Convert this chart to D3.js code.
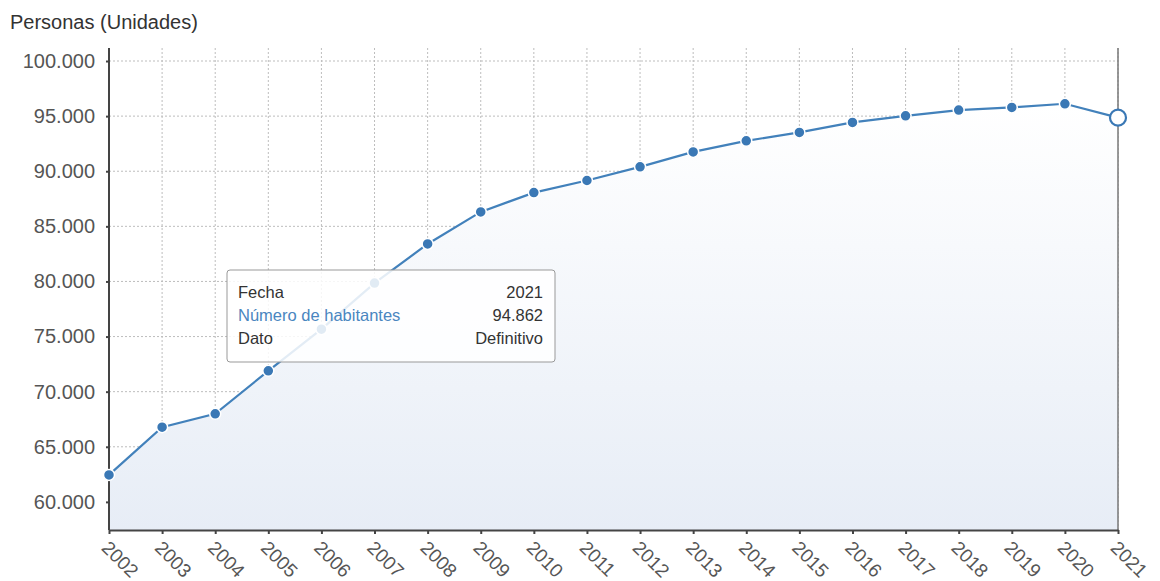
<!DOCTYPE html>
<html>
<head>
<meta charset="utf-8">
<script src="https://cdn.jsdelivr.net/npm/d3@7"></script>
<style>
  body { margin: 0; background: #fff; font-family: "Liberation Sans", Arial, sans-serif; }
  #chart svg { display: block; }
</style>
</head>
<body>
<div id="chart"></div>
<script>
const years = ['2002', '2003', '2004', '2005', '2006', '2007', '2008', '2009', '2010', '2011',
               '2012', '2013', '2014', '2015', '2016', '2017', '2018', '2019', '2020', '2021'];
const habitantes = [62450, 66780, 67990, 71890, 75670, 79850, 83400, 86310, 88060, 89160,
                    90400, 91750, 92760, 93520, 94430, 95030, 95545, 95790, 96120, 94862];
const yTicks = [60000, 65000, 70000, 75000, 80000, 85000, 90000, 95000, 100000];
const tooltipRows = [
    ['Fecha', '2021'],
    ['Número de habitantes', '94.862'],
    ['Dato', 'Definitivo']
];

const width = 1160;
const height = 581;
const margin = { top: 48, left: 109, right: 42, bottom: 51 };

const fmt = d3.formatLocale({ decimal: ',', thousands: '.', grouping: [3], currency: ['', '€'] }).format(',');

const svg = d3.select('#chart')
    .append('svg')
    .attr('width', width)
    .attr('height', height);

const x = d3.scalePoint()
    .domain(years)
    .range([margin.left, width - margin.right]);

const y = d3.scaleLinear()
    .domain([57450, 101180])
    .range([height - margin.bottom, margin.top]);

const defs = svg.append('defs');
const grad = defs.append('linearGradient')
    .attr('id', 'areaFill')
    .attr('x1', 0).attr('y1', 0).attr('x2', 0).attr('y2', 1);
grad.append('stop').attr('offset', '0%').attr('stop-color', '#ffffff');
grad.append('stop').attr('offset', '100%').attr('stop-color', '#e7edf6');

// grid
svg.append('g')
    .selectAll('line')
    .data(yTicks)
    .join('line')
    .attr('x1', margin.left)
    .attr('x2', width - margin.right)
    .attr('y1', d => y(d))
    .attr('y2', d => y(d))
    .attr('stroke', '#bdbdbd')
    .attr('stroke-dasharray', '2,2');

svg.append('g')
    .selectAll('line')
    .data(years)
    .join('line')
    .attr('x1', d => x(d))
    .attr('x2', d => x(d))
    .attr('y1', margin.top)
    .attr('y2', height - margin.bottom)
    .attr('stroke', '#bdbdbd')
    .attr('stroke-dasharray', '2,2');

const pts = years.map((d, i) => ({ year: d, value: habitantes[i] }));

svg.append('path')
    .datum(pts)
    .attr('fill', 'url(#areaFill)')
    .attr('d', d3.area()
        .x(d => x(d.year))
        .y0(height - margin.bottom)
        .y1(d => y(d.value)));

// right border
svg.append('line')
    .attr('x1', width - margin.right)
    .attr('x2', width - margin.right)
    .attr('y1', margin.top)
    .attr('y2', height - margin.bottom)
    .attr('stroke', '#777')
    .attr('stroke-width', 1.5);

// axes
const yAxis = svg.append('g')
    .attr('transform', `translate(${margin.left},0)`)
    .call(d3.axisLeft(y).tickValues(yTicks).tickSize(3).tickPadding(11).tickFormat(fmt));
yAxis.select('.domain').attr('stroke', '#444').attr('stroke-width', 2).attr('d', `M0,${margin.top}V${height - margin.bottom}`);
yAxis.selectAll('.tick line').attr('stroke', '#444').attr('stroke-width', 2);
yAxis.selectAll('text')
    .attr('font-size', '20px')
    .attr('fill', '#555')
    .attr('font-family', '"Liberation Sans", Arial, sans-serif');

const xAxis = svg.append('g')
    .attr('transform', `translate(0,${height - margin.bottom})`)
    .call(d3.axisBottom(x).tickSize(4).tickSizeOuter(0));
xAxis.select('.domain').attr('stroke', '#444').attr('stroke-width', 2);
xAxis.selectAll('.tick line').attr('stroke', '#444').attr('stroke-width', 2);
xAxis.selectAll('text')
    .attr('font-size', '19px')
    .attr('fill', '#555')
    .attr('font-family', '"Liberation Sans", Arial, sans-serif')
    .attr('text-anchor', 'start')
    .attr('dy', 0)
    .attr('transform', 'translate(-4,14) rotate(45)');

// line + dots
svg.append('path')
    .datum(pts)
    .attr('fill', 'none')
    .attr('stroke', '#4281bb')
    .attr('stroke-width', 2.2)
    .attr('d', d3.line().x(d => x(d.year)).y(d => y(d.value)));

svg.append('g')
    .selectAll('circle')
    .data(pts.slice(0, -1))
    .join('circle')
    .attr('cx', d => x(d.year))
    .attr('cy', d => y(d.value))
    .attr('r', 5.5)
    .attr('fill', '#3a78b5')
    .attr('stroke', '#fff')
    .attr('stroke-width', 1.5);

const last = pts[pts.length - 1];
svg.append('circle')
    .attr('cx', x(last.year))
    .attr('cy', y(last.value))
    .attr('r', 8)
    .attr('fill', '#fff')
    .attr('stroke', '#3a78b5')
    .attr('stroke-width', 2.2);

// title
svg.append('text')
    .attr('x', 10)
    .attr('y', 29)
    .attr('font-size', '20px')
    .attr('fill', '#333')
    .text('Personas (Unidades)');

// tooltip
const tip = svg.append('g').attr('transform', 'translate(227,270)');
tip.append('rect')
    .attr('width', 328)
    .attr('height', 92)
    .attr('rx', 3)
    .attr('fill', '#fff')
    .attr('fill-opacity', 0.85)
    .attr('stroke', '#999');
tip.selectAll('text.k')
    .data(tooltipRows)
    .join('text')
    .attr('class', 'k')
    .attr('x', 11)
    .attr('y', (d, i) => 28 + i * 23)
    .attr('font-size', '16.5px')
    .attr('fill', (d, i) => i === 1 ? '#4a86c0' : '#333')
    .text(d => d[0]);
tip.selectAll('text.v')
    .data(tooltipRows)
    .join('text')
    .attr('class', 'v')
    .attr('x', 316)
    .attr('y', (d, i) => 28 + i * 23)
    .attr('text-anchor', 'end')
    .attr('font-size', '16.5px')
    .attr('fill', '#333')
    .text(d => d[1]);
</script>
</body>
</html>
